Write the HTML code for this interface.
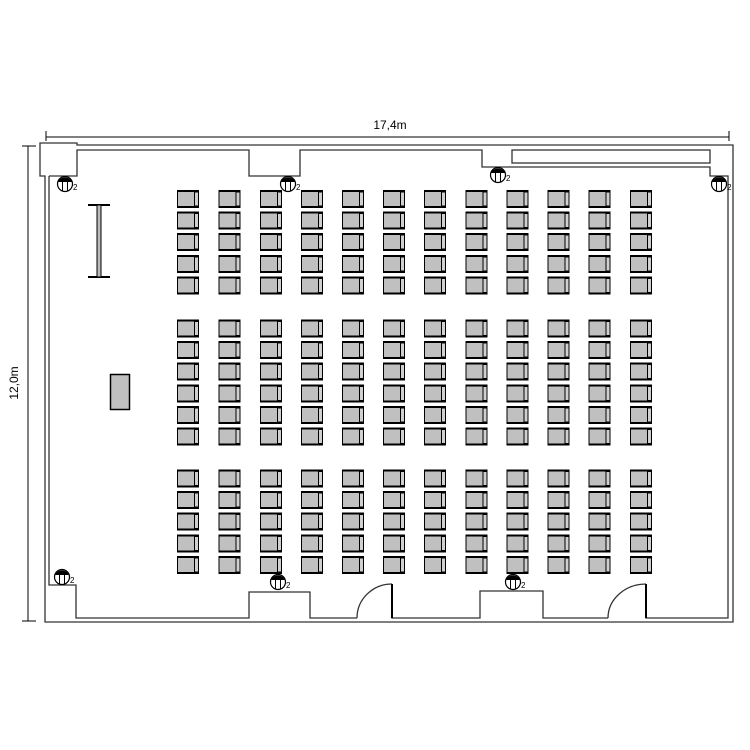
<!DOCTYPE html>
<html><head><meta charset="utf-8"><style>html,body{margin:0;padding:0;background:#fff}svg{display:block}</style></head>
<body>
<svg width="750" height="750" viewBox="0 0 750 750" xmlns="http://www.w3.org/2000/svg">
<defs>
<g id="ch">
<rect x="0.5" y="1" width="17" height="16" fill="#c0c0c0" stroke="#000" stroke-width="1"/>
<rect x="17.5" y="2" width="4" height="14" fill="#d0d0d0" stroke="#000" stroke-width="1"/>
<line x1="0" y1="1" x2="22" y2="1" stroke="#000" stroke-width="2"/>
<line x1="0" y1="17" x2="22" y2="17" stroke="#000" stroke-width="2"/>
</g>
<g id="col">
<use href="#ch" y="190"/><use href="#ch" y="211.5"/><use href="#ch" y="233"/><use href="#ch" y="255"/><use href="#ch" y="276.5"/>
<use href="#ch" y="319.5"/><use href="#ch" y="341"/><use href="#ch" y="362.5"/><use href="#ch" y="384.5"/><use href="#ch" y="406"/><use href="#ch" y="427.5"/>
<use href="#ch" y="469.5"/><use href="#ch" y="491"/><use href="#ch" y="512.5"/><use href="#ch" y="534.5"/><use href="#ch" y="556"/>
</g>
<g id="sp">
<circle cx="0" cy="0" r="7.5" fill="#fff" stroke="#000" stroke-width="1.2"/>
<path d="M-7,-2 A7.5,7.5 0 0 1 7,-2 Z" fill="#000"/>
<line x1="-2.5" y1="-6" x2="-2.5" y2="7" stroke="#000"/>
<line x1="2.5" y1="-6" x2="2.5" y2="7" stroke="#000"/>
<text x="8" y="6" font-family="Liberation Sans, sans-serif" font-size="8">2</text>
</g>
</defs>

<!-- dimension lines -->
<line x1="46" y1="137" x2="729" y2="137" stroke="#000"/>
<line x1="46" y1="131" x2="46" y2="141" stroke="#000"/>
<line x1="729" y1="131" x2="729" y2="141" stroke="#000"/>
<text x="390" y="129" text-anchor="middle" font-family="Liberation Sans, sans-serif" font-size="12">17,4m</text>
<line x1="28" y1="146" x2="28" y2="621" stroke="#000"/>
<line x1="22" y1="146" x2="36" y2="146" stroke="#000"/>
<line x1="22" y1="621" x2="36" y2="621" stroke="#000"/>
<text transform="translate(18,383) rotate(-90)" text-anchor="middle" font-family="Liberation Sans, sans-serif" font-size="12">12,0m</text>

<!-- walls -->
<g fill="none" stroke="#333" stroke-width="1.3">
<path d="M40,143 H77 V145 H733 V622 H45 V176 H40 Z"/>
<path d="M49,176 H77 V150 H249 V176 H300 V150 H482 V167 H710 V176 H728 V618 H646 V584"/>
<path d="M608,618 H543 V591 H480 V618 H392 V584"/>
<path d="M357,618 H310 V592 H249 V618 H76 V585 H49 V176"/>
<path d="M357,618 A35,34 0 0 1 392,584"/>
<path d="M608,618 A38,34 0 0 1 646,584"/>
<rect x="512" y="150" width="198" height="13"/>
</g>
<rect x="391" y="584" width="2" height="34" fill="#000"/>
<rect x="645" y="584" width="2" height="34" fill="#000"/>

<!-- lectern / screen -->
<line x1="88" y1="205" x2="110" y2="205" stroke="#000" stroke-width="2"/>
<line x1="88" y1="277" x2="110" y2="277" stroke="#000" stroke-width="2"/>
<rect x="97" y="205" width="4" height="72" fill="#bbb" stroke="#000" stroke-width="1"/>
<rect x="110.5" y="374.5" width="19" height="35" fill="#c0c0c0" stroke="#000" stroke-width="1.5"/>

<!-- chairs -->
<use href="#col" x="177"/><use href="#col" x="218.5"/><use href="#col" x="260"/><use href="#col" x="301"/>
<use href="#col" x="342"/><use href="#col" x="383"/><use href="#col" x="424"/><use href="#col" x="465.5"/>
<use href="#col" x="506.5"/><use href="#col" x="547.5"/><use href="#col" x="588.5"/><use href="#col" x="630"/>

<!-- speakers -->
<use href="#sp" x="65" y="184"/>
<use href="#sp" x="288" y="184"/>
<use href="#sp" x="498" y="175"/>
<use href="#sp" x="719" y="184"/>
<use href="#sp" x="62" y="577"/>
<use href="#sp" x="278" y="582"/>
<use href="#sp" x="513" y="582"/>
</svg>
</body></html>
